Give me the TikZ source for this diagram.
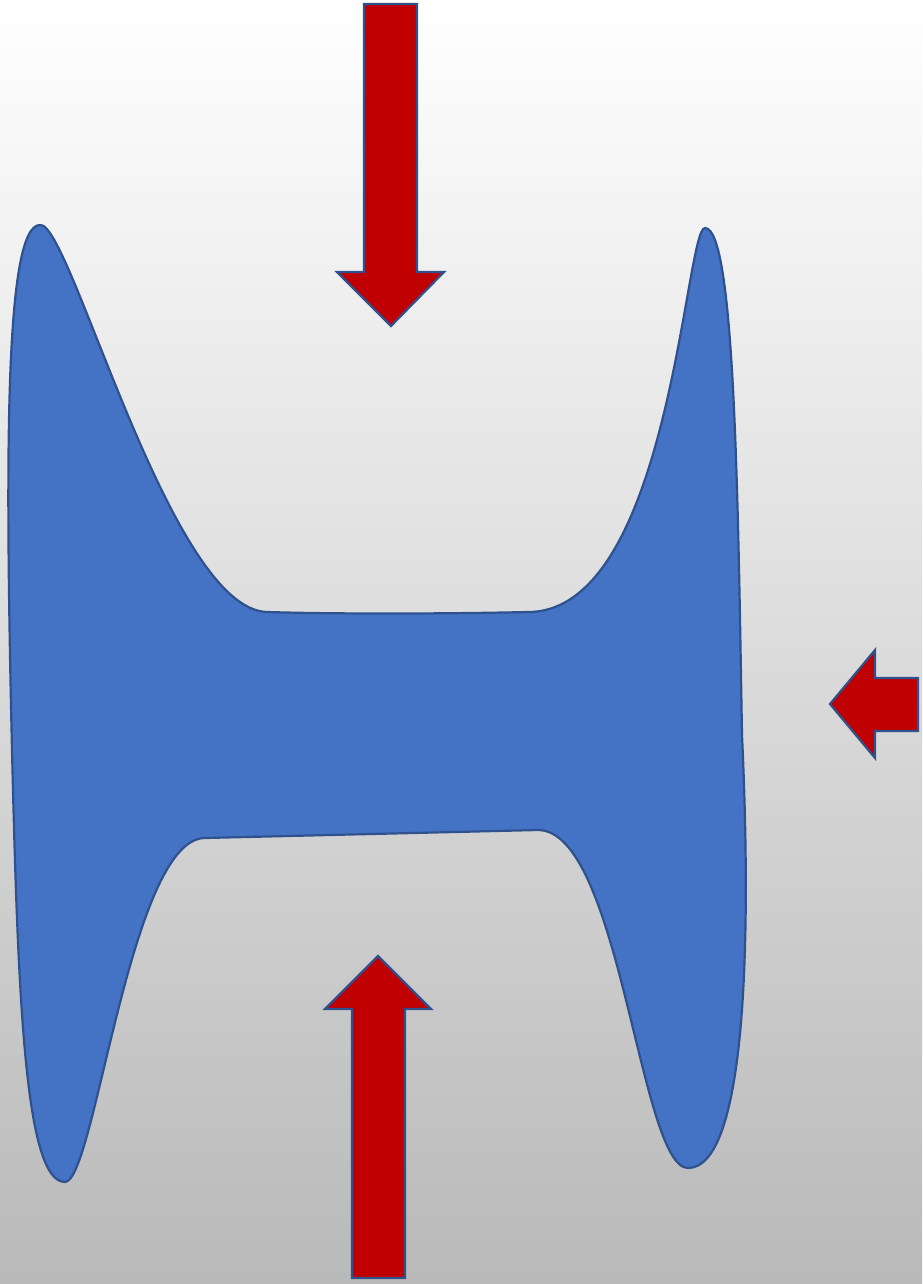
\documentclass[tikz,border=0pt]{standalone}
\usepackage{tikz}
\usetikzlibrary{
  arrows.meta,
  calc
}
\definecolor{bodyblue}{HTML}{4472C4}
\definecolor{edgeblue}{HTML}{2F528F}
\definecolor{pushred}{HTML}{C00000}
\definecolor{bggray}{HTML}{B9B9B9}

\begin{document}
\begin{tikzpicture}[x=0.5pt,y=-0.5pt,
    body/.style={fill=bodyblue,draw=edgeblue,line width=1.1pt},
    push/.style={fill=pushred,draw=edgeblue,line width=1.1pt,line join=miter}]
  \fill[top color=white,bottom color=bggray] (0,0) rectangle (922,1284);
  \useasboundingbox (0,0) rectangle (922,1284);
  % deformed body
  \draw[body] (40,225) .. controls (70,220) and (170,612) .. (268,612)
    .. controls (330,614) and (440,614) .. (528,612)
    .. controls (670,612) and (685,228) .. (705,228)
    .. controls (735,228) and (738,500) .. (742,735)
    .. controls (752,950) and (745,1168) .. (688,1168)
    .. controls (640,1168) and (620,830) .. (538,830)
    -- (205,838)
    .. controls (130,838) and (95,1182) .. (65,1182)
    .. controls (25,1182) and (18,1000) .. (12,750)
    .. controls (5,450) and (5,225) .. (40,225) -- cycle;
  % forces
  \draw[push] (364,4) -- (417,4) -- (417,272) -- (444,272) -- (391,326)
    -- (337,272) -- (364,272) -- cycle;
  \draw[push] (352,1278) -- (405,1278) -- (405,1009) -- (431,1009) -- (378,956)
    -- (325,1009) -- (352,1009) -- cycle;
  \draw[push] (918,678) -- (918,731) -- (875,731) -- (875,758) -- (830,704)
    -- (875,650) -- (875,678) -- cycle;
\end{tikzpicture}
\end{document}
